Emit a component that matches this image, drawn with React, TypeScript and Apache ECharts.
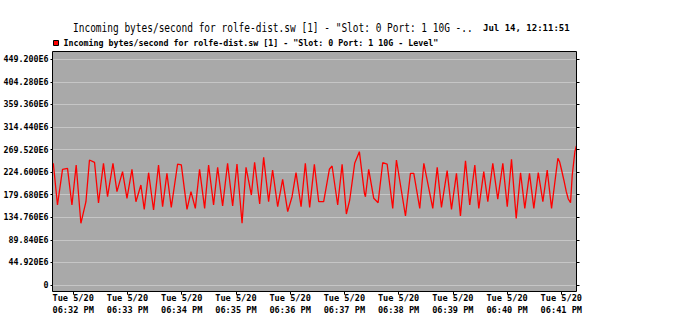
import React, { useEffect, useRef } from "react";
import * as echarts from "echarts";

// seconds relative to 06:32:00 PM
const times: number[] = [
  -22, -17.4, -11.8, -6.3, -1.4, 3.3, 8.5, 14.1, 18.0, 23.6, 28.0, 33.5, 38.0, 44.0, 48.4, 54.6, 59.5, 65.0, 69.4, 74.9,
  78.6, 83.4, 88.9, 94.4, 98.9, 103.7, 108.5, 115.5, 119.6, 125.9, 130.3, 135.1, 139.8, 145.4, 149.8, 155.3, 159.8, 165.3,
  170.8, 176.4, 181.2, 186.8, 191.2, 197.1, 200.7, 206.3, 210.7, 216.2, 220.6, 226.2, 231.7, 237.3, 242.1, 246.5, 252.1,
  256.8, 261.6, 266.8, 271.6, 277.1, 283.4, 286.4, 292.6, 297.5, 302.2, 305.9, 311.4, 316.6, 322.2, 323.3, 326.9, 332.5,
  337.3, 342.4, 347.3, 353.5, 357.6, 367.6, 373.1, 376.8, 383.4, 387.9, 397.8, 402.7, 407.4, 413.7, 418.5, 424.0, 428.4,
  434.0, 438.7, 444.3, 448.7, 454.2, 458.7, 464.2, 469.7, 475.3, 480.2, 484.9, 490.1, 494.9, 499.6, 504.8, 509.6, 514.5,
  519.6, 524.4, 529.2, 536.2, 538.1, 540.3, 542.8, 545.5, 547.7, 550.2, 552.1, 555.0, 556.6,
];

// incoming bytes/second, in millions (E6)
const incoming: number[] = [
  242.2, 159.2, 230.3, 232.2, 159.2, 238.8, 122.8, 165.8, 248.8, 244.2, 163.2, 242.2, 175.7, 242.2, 185.7, 225.5, 172.5,
  230.3, 165.8, 199.0, 150.6, 223.5, 149.3, 238.8, 155.8, 222.3, 154.6, 240.8, 239.0, 150.6, 185.7, 152.6, 230.3, 152.6,
  238.8, 159.2, 234.2, 157.2, 242.2, 157.2, 240.8, 122.8, 234.2, 179.1, 244.2, 161.2, 254.1, 165.8, 228.9, 155.8, 210.3,
  145.9, 175.7, 223.5, 155.8, 242.2, 154.6, 240.2, 165.8, 165.8, 230.3, 236.8, 159.2, 240.2, 141.3, 169.2, 242.2, 265.3,
  182.5, 175.7, 230.3, 172.5, 163.8, 243.4, 240.8, 152.6, 248.8, 137.3, 222.3, 222.3, 152.6, 242.2, 152.6, 234.2, 154.6,
  227.5, 150.6, 222.3, 137.3, 247.4, 159.2, 238.8, 152.6, 225.5, 165.8, 242.2, 170.6, 242.2, 155.8, 250.2, 132.7, 223.5,
  152.6, 222.3, 152.6, 223.5, 165.8, 228.9, 152.6, 252.2, 245.4, 228.9, 209.0, 185.7, 171.2, 163.8, 218.9, 265.3, 276.6,
];

const minuteTicks: number[] = [0, 60, 120, 180, 240, 300, 360, 420, 480, 540];
const minuteLabels: string[] = [
  "06:32 PM", "06:33 PM", "06:34 PM", "06:35 PM", "06:36 PM",
  "06:37 PM", "06:38 PM", "06:39 PM", "06:40 PM", "06:41 PM",
];
const dayLabel = "Tue 5/20";

const titleText = 'Incoming bytes/second for rolfe-dist.sw [1] - "Slot: 0 Port: 1 10G -..';
const dateText = "Jul 14, 12:11:51";
const seriesName = 'Incoming bytes/second for rolfe-dist.sw [1] - "Slot: 0 Port: 1 10G - Level"';

const MONO = "'DejaVu Sans Mono', 'Liberation Mono', monospace";

export default function App() {
  const ref = useRef<HTMLDivElement>(null);

  useEffect(() => {
    document.body.style.margin = "0";
    if (!ref.current) return;
    const chart = echarts.init(ref.current, null, { renderer: "svg" });
    const data = times.map((t, i) => [t, incoming[i]]);
    chart.setOption({
      animation: false,
      backgroundColor: "#ffffff",
      graphic: [
        {
          type: "rect",
          z: -1,
          shape: { x: 52.5, y: 51.5, width: 524, height: 240 },
          style: { fill: "#a9a9a9", stroke: "none" },
        },
        {
          type: "rect",
          z: 100,
          silent: true,
          shape: { x: 52.5, y: 51.5, width: 524, height: 240 },
          style: { fill: "none", stroke: "#000000", lineWidth: 1 },
        },
        {
          type: "text",
          x: 73,
          y: 28,
          scaleY: 1.3,
          style: {
            text: titleText,
            fontFamily: MONO,
            fontSize: 9.5,
            fill: "#000",
            verticalAlign: "middle",
          },
        },
        {
          type: "text",
          x: 483,
          y: 28,
          style: {
            text: dateText,
            fontFamily: MONO,
            fontSize: 9,
            fontWeight: "bold",
            fill: "#000",
            verticalAlign: "middle",
          },
        },
      ],
      legend: {
        left: 53,
        top: 39,
        padding: 0,
        itemWidth: 5,
        itemHeight: 5,
        icon: "rect",
        itemStyle: { borderColor: "#000", borderWidth: 1 },
        textStyle: { fontFamily: MONO, fontSize: 8.3, fontWeight: "bold", color: "#000" },
        data: [seriesName],
      },
      grid: { left: 52.5, right: 109.5, top: 59.3, bottom: 48, containLabel: false },
      xAxis: {
        type: "value",
        min: -22.9,
        max: 556.8,
        offset: 6.7,
        axisLine: { show: false, onZero: false },
        splitLine: { show: false },
        axisTick: {
          show: true,
          length: 3,
          customValues: minuteTicks,
          lineStyle: { color: "#000" },
        },
        axisLabel: {
          customValues: minuteTicks,
          margin: 0,
          fontFamily: MONO,
          fontSize: 8.6,
          fontWeight: "bold",
          lineHeight: 12,
          color: "#000",
          formatter: (v: number) => {
            const i = minuteTicks.indexOf(v);
            return dayLabel + "\n" + (i >= 0 ? minuteLabels[i] : "");
          },
        },
      },
      yAxis: [
        {
          type: "value",
          min: 0,
          max: 449.2,
          interval: 44.92,
          axisLine: { show: false, onZero: false },
          axisTick: { show: true, length: 2, lineStyle: { color: "#000" } },
          splitLine: { show: true, lineStyle: { color: "#c6c6c6", width: 1 } },
          axisLabel: {
            margin: 4,
            fontFamily: MONO,
            fontSize: 8.3,
            fontWeight: "bold",
            color: "#000",
            formatter: (v: number) => (Math.abs(v) < 1e-9 ? "0" : v.toFixed(3) + "E6"),
          },
        },
        {
          type: "value",
          position: "right",
          min: 0,
          max: 449.2,
          interval: 44.92,
          axisLine: { show: false, onZero: false },
          axisTick: { show: true, length: 3, lineStyle: { color: "#000" } },
          splitLine: { show: false },
          axisLabel: { show: false },
        },
      ],
      series: [
        {
          name: seriesName,
          type: "line",
          data,
          showSymbol: false,
          symbol: "none",
          color: "#ff0000",
          lineStyle: { color: "#ff0000", width: 1.3 },
          itemStyle: { color: "#ff0000" },
          z: 5,
        },
      ],
    });
    return () => chart.dispose();
  }, []);

  return <div ref={ref} style={{ width: 686, height: 333 }} />;
}
